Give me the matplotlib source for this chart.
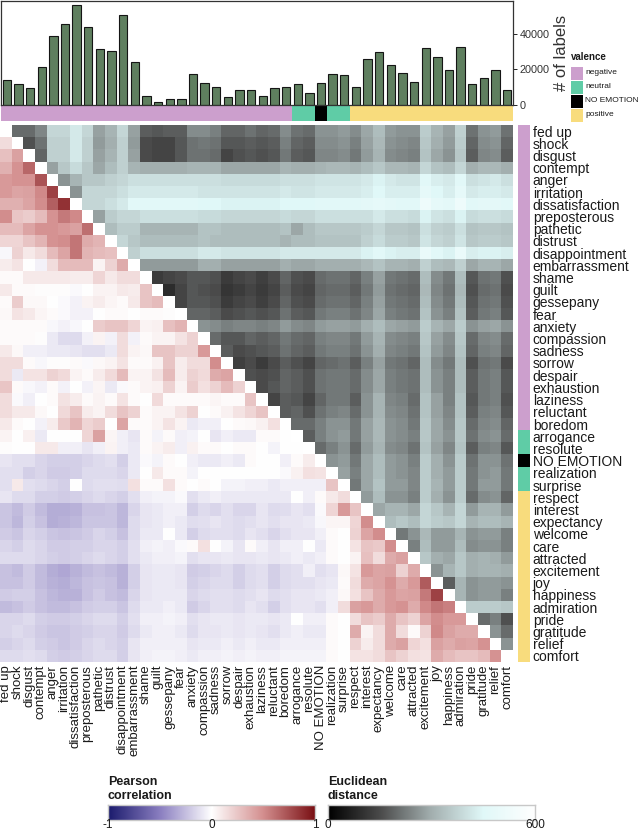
import numpy as np
import matplotlib
matplotlib.use("Agg")
import matplotlib.pyplot as plt
from matplotlib.colors import LinearSegmentedColormap, to_rgb
from matplotlib.patches import Rectangle

plt.rcParams['font.family'] = ['Liberation Sans', 'DejaVu Sans']

categories = ["fed up", "shock", "disgust", "contempt", "anger", "irritation",
              "dissatisfaction", "preposterous", "pathetic", "distrust",
              "disappointment", "embarrassment", "shame", "guilt", "gessepany",
              "fear", "anxiety", "compassion", "sadness", "sorrow", "despair",
              "exhaustion", "laziness", "reluctant", "boredom", "arrogance",
              "resolute", "NO EMOTION", "realization", "surprise", "respect",
              "interest", "expectancy", "welcome", "care", "attracted",
              "excitement", "joy", "happiness", "admiration", "pride",
              "gratitude", "relief", "comfort"]

valence = ["negative"] * 25 + ["neutral", "neutral", "NO EMOTION", "neutral", "neutral"] + ["positive"] * 14

label_counts = [14100, 12000, 9400, 21200, 39000, 45800, 56000, 44100, 31400, 30400,
                50500, 24400, 4900, 1700, 3400, 3400, 17700, 12600, 10300, 4500,
                8600, 8600, 5300, 9400, 10300, 12000, 6800, 12600, 17700, 17100,
                10300, 25700, 29900, 22500, 18000, 13100, 32100, 27200, 19500, 32700,
                12000, 15000, 19500, 8500]

# lower triangle: Pearson correlation x100, row i holds columns 0..i-1
corr_rows = [
    "15",
    "28 42",
    "35 48 65",
    "45 48 48 73",
    "45 40 42 52 80",
    "35 35 40 50 68 86",
    "50 25 22 30 48 58 52",
    "30 30 40 48 48 45 42 62",
    "18 18 26 33 48 50 60 37 33",
    "-3 20 10 15 30 40 60 33 30 28",
    "8 12 0 -5 15 30 30 30 5 20 37",
    "2 2 10 10 10 10 8 8 18 10 15 15",
    "10 2 2 1 1 1 -2 0 5 5 10 8 26",
    "2 22 3 3 0 -2 -5 5 8 4 2 10 26 30",
    "3 12 10 4 2 -2 -5 -5 0 2 2 0 2 2 1",
    "2 2 2 2 -3 -5 -3 0 22 26 26 18 5 7 28 33",
    "2 2 2 1 -8 -14 -14 -5 5 -5 15 -5 2 5 5 12 20",
    "10 3 -6 -6 -8 -8 -10 -12 -12 -8 15 5 3 26 26 20 20 45",
    "15 15 2 -3 1 1 2 -2 3 5 12 2 2 6 26 8 15 15 50",
    "15 -8 12 12 20 16 5 2 8 16 30 5 5 13 30 8 20 16 37 40",
    "25 2 -3 -5 2 -5 0 -5 4 -8 -2 2 5 7 20 5 22 14 20 30 20",
    "15 -2 -6 0 2 13 8 2 5 2 12 2 0 16 2 2 2 2 4 2 2 26",
    "15 10 10 3 0 17 26 8 5 15 26 20 2 5 5 12 20 0 2 6 12 18 26",
    "10 2 0 -5 8 24 33 18 22 0 40 2 2 5 12 5 -8 -6 -6 0 2 3 6 14",
    "5 0 7 -8 0 0 0 18 42 4 -6 -10 2 -4 2 -6 -4 0 -10 -6 -8 -8 2 2 0",
    "1 0 0 10 10 -6 -6 -10 -6 5 -6 -8 2 5 8 -6 6 2 2 0 2 2 0 -4 0 0",
    "-10 -12 -12 -16 -18 -18 -18 -16 -14 -12 -18 -8 -2 -4 2 0 -6 -8 -8 -6 -8 2 0 0 -6 2 8",
    "-12 -12 -18 -16 -20 -20 -18 -14 -14 -14 -16 -8 0 10 2 2 -4 0 0 0 0 0 0 0 -2 6 14 12",
    "-12 10 -12 -14 -16 -18 0 -14 -12 -12 -13 14 2 2 14 2 0 2 0 -4 -4 -6 -6 -8 -6 -6 -6 -6 26",
    "-10 -14 -14 -18 -18 -20 -18 -16 -14 -16 -18 -12 -6 -4 -4 -2 -12 -8 -6 -8 -8 -8 -8 -8 -8 0 -6 2 10 15",
    "-22 -26 -20 -26 -32 -32 -30 -24 -24 -22 -28 -16 -10 -8 -6 -6 -18 -14 -16 -12 -16 -16 -10 -14 -13 -10 -12 -2 18 45 26",
    "-22 -28 -18 -24 -32 -30 -28 -22 -22 -22 -28 -14 -10 -8 -6 -8 -13 -12 -10 -12 -14 -12 -10 -12 -10 -10 -8 -3 4 4 18 50",
    "-20 -22 -16 -18 -22 -24 -22 -20 -16 -18 -24 -14 -8 -8 0 -8 -18 -14 -12 -12 -14 -10 -12 -16 -12 -10 -10 -6 2 0 20 40 50",
    "-16 -18 -14 -16 -20 -20 -18 -18 -16 -16 -18 -12 -6 -4 -6 -2 2 14 0 -4 -10 2 -6 -10 -6 -6 0 -8 2 0 12 26 24 50",
    "-14 -14 -14 -16 -18 -20 -18 -16 -14 -16 -18 -12 -8 -6 -6 -4 -12 -10 -10 -8 -10 -10 -8 -10 -8 -6 -8 -6 2 0 5 28 15 37 42",
    "-24 -26 -20 -26 -32 -34 -30 -26 -24 -26 -30 -18 -10 -8 -8 -10 -20 -18 -16 -14 -18 -14 -12 -18 -14 -12 -6 -12 -10 3 12 45 40 42 20 37",
    "-24 -24 -20 -26 -30 -32 -28 -24 -22 -24 -30 -18 -10 -8 -8 -10 -18 -16 -14 -14 -18 -14 -12 -18 -14 -12 -12 -10 -8 2 15 37 40 48 37 45 70",
    "-20 -18 -18 -24 -28 -30 -30 -24 -20 -24 -26 -16 -10 -8 -8 -8 -16 -14 -12 -12 -14 -12 -10 -14 -12 -10 -10 -8 -6 3 14 26 37 45 40 42 58 80",
    "-26 -24 -20 -24 -26 -26 -24 -20 -18 -18 -22 -14 -8 -8 -6 -8 -20 -16 -12 -12 -14 -10 -12 -18 -12 -10 -10 -12 -6 15 42 45 37 45 48 37 52 60 56",
    "-16 -16 -14 -18 -20 -20 -18 -16 -14 -14 -18 -12 -6 -6 -4 -6 -12 -10 -8 -8 -10 -8 -8 -10 -8 0 -6 -6 2 0 15 26 22 37 26 20 40 50 45 45",
    "-16 -14 -16 -20 -22 -22 -20 -18 -16 -16 -20 -14 -8 -6 -6 -8 -14 -10 -10 -8 -10 -8 -10 -12 -8 -6 -8 -8 2 0 37 5 15 37 15 2 20 52 42 37 37",
    "-18 -16 -14 -18 -20 -22 -20 -16 -14 -16 -18 -10 -6 -6 -6 -6 -10 -8 -8 -6 -8 -6 -8 -8 -6 -6 -6 -6 2 0 20 8 15 37 42 18 14 42 37 42 40 48",
    "-14 -14 -12 -14 -18 -20 -18 -16 -14 -14 -18 -10 -6 -4 -4 -6 -8 -6 -6 -4 -6 -4 -6 -6 -4 -4 -4 -4 2 0 12 12 15 26 20 14 12 37 30 26 26 30 48",
]

# upper triangle: Euclidean distance / 10, row i holds columns i+1..43
dist_rows = [
    "20 20 24 38 38 42 38 28 31 38 28 18 17 18 18 25 25 23 19 19 21 19 20 25 21 20 26 26 27 25 29 33 27 26 26 36 31 28 37 21 26 27 21",
    "16 21 37 37 42 37 27 30 37 27 15 14 14 17 21 22 21 17 17 18 17 18 23 19 18 25 25 26 23 28 32 26 25 24 35 30 27 36 19 25 26 19",
    "19 37 37 42 37 28 31 37 28 15 14 14 17 21 21 20 14 16 17 16 17 22 18 17 24 24 25 22 27 31 25 24 23 34 29 26 35 18 24 25 18",
    "28 35 39 35 29 33 37 31 30 30 30 30 31 31 31 29 29 29 29 29 31 30 30 31 32 32 31 33 35 32 32 31 38 34 33 38 30 32 32 30",
    "26 31 35 35 37 38 40 40 40 40 40 40 40 40 39 39 39 39 39 40 40 40 41 41 41 41 42 44 42 41 41 46 43 42 46 40 41 42 40",
    "26 38 38 38 40 42 42 42 42 42 42 41 41 41 41 41 41 41 42 41 41 42 42 42 42 43 45 43 43 43 48 45 43 48 42 43 43 42",
    "38 38 40 42 46 46 46 46 46 46 45 45 44 44 44 44 44 45 45 45 46 46 46 46 47 48 47 46 46 52 48 47 52 46 47 47 46",
    "28 36 38 38 40 40 40 40 40 39 39 38 38 38 38 38 39 38 38 40 40 40 40 40 42 40 40 39 44 41 40 44 39 40 40 39",
    "33 36 36 31 31 31 31 31 34 34 33 33 33 33 33 34 29 33 35 35 35 35 36 38 35 35 34 40 37 36 40 34 35 35 34",
    "38 35 33 33 33 33 33 34 33 33 33 33 33 33 31 33 33 34 34 34 34 37 39 36 36 35 41 38 37 41 35 36 36 35",
    "37 40 40 40 40 40 42 42 41 41 41 41 41 42 42 42 42 42 42 42 44 46 44 43 43 50 46 44 50 43 44 44 43",
    "27 27 27 27 27 30 30 28 28 28 28 28 30 29 29 30 30 30 30 32 34 31 31 30 37 33 32 37 29 31 31 29",
    "12 14 15 17 17 16 12 14 15 13 15 19 16 15 20 21 21 19 23 28 22 21 20 33 25 22 33 17 21 22 16",
    "9 14 17 16 15 11 12 14 12 14 18 15 14 19 20 20 18 22 27 21 20 19 32 24 21 32 16 20 21 15",
    "14 17 17 16 12 14 15 13 15 19 16 15 20 21 21 19 23 28 22 21 20 33 25 22 33 17 21 22 16",
    "19 19 18 15 16 17 16 17 21 18 17 22 23 23 21 24 29 23 22 21 34 26 23 34 18 22 23 17",
    "26 25 23 24 24 23 24 27 25 24 27 28 28 27 30 33 29 28 27 36 31 29 36 26 28 29 26",
    "20 17 17 19 18 19 22 20 19 23 24 24 22 27 31 25 24 23 35 28 25 35 20 24 25 20",
    "18 15 16 17 18 21 19 18 22 23 23 21 26 30 24 23 22 34 27 24 34 19 23 24 19",
    "13 15 12 15 18 16 14 19 20 21 18 23 28 22 21 19 33 25 22 33 16 21 22 15",
    "16 15 16 19 18 16 21 22 22 20 25 29 23 22 21 33 26 23 33 18 22 23 17",
    "15 17 19 18 16 21 22 22 20 25 29 23 22 21 33 26 23 33 18 22 23 17",
    "14 18 17 14 19 22 22 18 26 31 24 23 20 34 28 23 34 17 22 23 16",
    "18 19 16 21 23 24 20 26 31 25 24 21 34 28 24 34 18 23 24 17",
    "20 20 23 26 26 22 28 32 26 25 22 35 29 25 35 20 24 25 19",
    "18 23 26 27 22 28 32 26 25 23 35 29 26 35 21 25 26 20",
    "20 23 26 20 27 31 25 24 21 34 28 24 34 18 23 24 17",
    "26 27 22 29 33 27 26 23 36 30 26 36 21 26 26 21",
    "28 23 29 33 27 26 24 36 30 27 36 22 26 27 22",
    "22 29 34 27 27 24 36 31 27 36 22 27 27 22",
    "27 33 26 26 23 36 30 26 36 20 25 26 19",
    "29 31 31 29 38 35 31 38 27 31 31 27",
    "33 35 33 38 36 35 38 31 33 33 31",
    "22 26 32 27 27 31 26 27 27 23",
    "23 33 27 27 33 25 26 26 23",
    "35 30 29 35 30 31 30 27",
    "26 31 35 30 31 31 30",
    "18 31 26 27 27 26",
    "31 26 27 27 23",
    "36 36 36 35",
    "20 23 16",
    "26 20",
    "26",
]

valence_order = ["negative", "neutral", "NO EMOTION", "positive"]
valence_colors = {"negative": "#cc9fcd", "neutral": "#5fcca6",
                  "NO EMOTION": "#000000", "positive": "#f8dc7d"}

W, H = 640, 832
fig = plt.figure(figsize=(W / 100, H / 100), dpi=100)


def box(x0, y0, x1, y1):
    return [x0 / W, 1 - y1 / H, (x1 - x0) / W, (y1 - y0) / H]


n = len(categories)
corr = np.full((n, n), np.nan)
for i, row in enumerate(corr_rows, start=1):
    corr[i, :i] = [int(v) / 100 for v in row.split()]
dist = np.full((n, n), np.nan)
for i, row in enumerate(dist_rows):
    dist[i, i + 1:] = [int(v) * 10 for v in row.split()]

cmap_corr = LinearSegmentedColormap.from_list(
    "corr", [(0, "#1b1b6d"), (0.25, "#8a7ec0"), (0.5, "#ffffff"),
             (0.75, "#d48f8f"), (1, "#7a1014")])
cmap_dist = LinearSegmentedColormap.from_list(
    "dist", [(0, "#000000"), (0.25, "#4a4a4a"), (0.5, "#a3afaf"),
             (0.75, "#e0f8f8"), (1, "#ffffff")])

# ---- heatmap
ax = fig.add_axes(box(0, 125, 513, 662))
ext = (-0.5, n - 0.5, n - 0.5, -0.5)
ax.imshow(np.ma.masked_invalid(corr), cmap=cmap_corr, vmin=-1, vmax=1,
          aspect="auto", interpolation="nearest", extent=ext)
ax.imshow(np.ma.masked_invalid(dist), cmap=cmap_dist, vmin=0, vmax=600,
          aspect="auto", interpolation="nearest", extent=ext)
ax.set_xlim(-0.5, n - 0.5)
ax.set_ylim(n - 0.5, -0.5)
ax.set_xticks(range(n))
ax.set_xticklabels(categories, rotation=90, fontsize=9.5, color="#1a1a1a")
ax.tick_params(axis="x", length=0, pad=2)
ax.set_yticks([])
for s in ax.spines.values():
    s.set_visible(False)

val_rgb = np.array([to_rgb(valence_colors[v]) for v in valence])

# ---- row valence strip + labels
ax_rs = fig.add_axes(box(518, 125, 530, 662))
ax_rs.imshow(val_rgb[:, None, :], aspect="auto", interpolation="nearest",
             extent=(0, 1, n - 0.5, -0.5))
ax_rs.set_xlim(0, 1)
ax_rs.set_ylim(n - 0.5, -0.5)
ax_rs.set_xticks([])
ax_rs.set_yticks(range(n))
ax_rs.set_yticklabels(categories, fontsize=10, color="#1a1a1a")
ax_rs.yaxis.tick_right()
ax_rs.tick_params(axis="y", length=0, pad=2)
for s in ax_rs.spines.values():
    s.set_visible(False)

# ---- column valence strip
ax_cs = fig.add_axes(box(1, 105, 513, 121))
ax_cs.imshow(val_rgb[None, :, :], aspect="auto", interpolation="nearest",
             extent=(-0.5, n - 0.5, 0, 1))
ax_cs.set_xlim(-0.5, n - 0.5)
ax_cs.set_axis_off()

# ---- bar chart
ax_b = fig.add_axes(box(1, 1, 513, 105))
ax_b.bar(range(n), label_counts, width=0.72, color="#5f7f5f",
         edgecolor="#151515", linewidth=0.8)
ax_b.set_xlim(-0.5, n - 0.5)
ax_b.set_ylim(0, 58500)
ax_b.set_xticks([])
ax_b.yaxis.tick_right()
ax_b.yaxis.set_label_position("right")
ax_b.set_yticks([0, 20000, 40000])
ax_b.set_yticklabels(["0", "20000", "40000"], fontsize=7.8, color="#333333")
ax_b.tick_params(axis="y", length=3, width=0.6, pad=2)
ax_b.set_ylabel("# of labels", fontsize=12, color="#333333", labelpad=3)
for s in ax_b.spines.values():
    s.set_color("#333333")
    s.set_linewidth(0.9)

# ---- valence legend
fig.text(571 / W, 1 - 57 / H, "valence", fontsize=7, fontweight="bold",
         va="center", ha="left", color="#1a1a1a")
for k, v in enumerate(valence_order):
    yc = 73 + 14 * k
    fig.patches.append(Rectangle((571 / W, 1 - (yc + 6.5) / H), 12 / W, 13 / H,
                                 transform=fig.transFigure,
                                 facecolor=valence_colors[v], edgecolor="none"))
    fig.text(585 / W, 1 - yc / H, v, fontsize=6.0, va="center", ha="left",
             color="#1a1a1a")


# ---- colorbars
def colorbar(x0, x1, cmap, vmin, vmax, ticks, title):
    axc = fig.add_axes(box(x0, 805, x1, 820))
    grad = np.linspace(vmin, vmax, 256)[None, :]
    axc.imshow(grad, cmap=cmap, vmin=vmin, vmax=vmax, aspect="auto",
               extent=(vmin, vmax, 0, 1))
    axc.set_xlim(vmin, vmax)
    axc.set_ylim(0, 1)
    axc.set_xticks([])
    axc.set_yticks([])
    for s in axc.spines.values():
        s.set_color("#c8c8c8")
        s.set_linewidth(1.0)
    for t in ticks:
        axc.plot([t, t], [0, 0.2], color="white", lw=0.8)
        axc.plot([t, t], [0.8, 1], color="white", lw=0.8)
        xp = x0 + (t - vmin) / (vmax - vmin) * (x1 - x0)
        fig.text(xp / W, 1 - 825 / H, f"{t:g}", fontsize=8.5, ha="center",
                 va="center", color="#1a1a1a")
    fig.text(x0 / W, 1 - 789 / H, title, fontsize=9, fontweight="bold",
             ha="left", va="center", linespacing=1.15, color="#1a1a1a")


colorbar(108, 315, cmap_corr, -1, 1, [-1, 0, 1], "Pearson\ncorrelation")
colorbar(328, 535, cmap_dist, 0, 600, [0, 600], "Euclidean\ndistance")

fig.savefig("out.png", dpi=100)
